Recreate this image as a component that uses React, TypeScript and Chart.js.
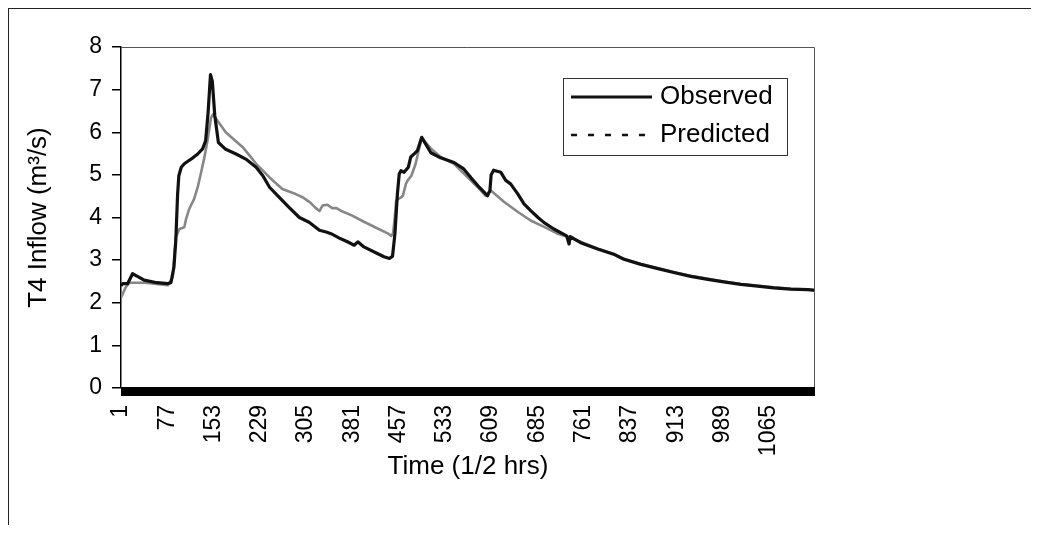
import { useEffect, useRef } from "react";
import { Chart, registerables } from "chart.js";

Chart.register(...registerables);

// Half-hour time steps and flows (m³/s) for the T4 inflow
const obsTime = [
  1, 4, 12, 20, 28, 39, 60, 78, 83, 88,
  91, 94, 96, 100, 105, 112, 119, 127, 135, 140,
  144, 148, 151, 155, 161, 173, 190, 206, 223, 234,
  245, 261, 277, 294, 310, 327, 338, 346, 362, 373,
  384, 390, 400, 417, 433, 442, 447, 451, 455, 458,
  461, 466, 473, 477, 483, 488, 495, 510, 526, 548,
  564, 576, 587, 597, 603, 607, 609, 613, 625, 633,
  641, 653, 663, 674, 686, 696, 712, 733, 737, 739,
  756, 784, 810, 827, 855, 883, 909, 937, 965, 991,
  1019, 1047, 1073, 1101, 1129, 1141,
];
const obsFlow = [
  2.4, 2.45, 2.45, 2.68, 2.62, 2.53, 2.47, 2.45, 2.47, 2.84,
  3.46, 4.55, 4.98, 5.18, 5.26, 5.33, 5.4, 5.49, 5.61, 5.8,
  6.45, 7.35, 7.2, 6.4, 5.76, 5.6, 5.49, 5.37, 5.18, 4.98,
  4.71, 4.47, 4.24, 4.0, 3.89, 3.7, 3.66, 3.62, 3.5, 3.43,
  3.35, 3.43, 3.31, 3.19, 3.08, 3.04, 3.09, 3.62, 4.55, 5.02,
  5.1, 5.06, 5.18, 5.42, 5.5, 5.57, 5.88, 5.52, 5.4, 5.29,
  5.14, 4.93, 4.75, 4.6, 4.51, 4.63, 5.0, 5.11, 5.06, 4.87,
  4.79, 4.55, 4.32, 4.16, 4.0, 3.88, 3.73, 3.57, 3.38, 3.55,
  3.41, 3.26, 3.14, 3.02, 2.9, 2.8, 2.71, 2.62, 2.55, 2.49,
  2.43, 2.39, 2.35, 2.32, 2.31, 2.29,
];

const predTime = [
  1, 9, 15, 40, 78, 86, 91, 97, 105, 108,
  113, 121, 127, 132, 138, 143, 149, 152, 173, 201,
  223, 245, 266, 288, 300, 305, 312, 321, 327, 332,
  340, 348, 355, 362, 380, 400, 420, 440, 445, 448,
  451, 453, 456, 461, 464, 469, 472, 478, 485, 490,
  495, 510, 526, 548, 570, 587, 600, 605, 609, 630,
  653, 674, 696, 718, 735, 756, 784, 810, 827, 855,
  883, 909, 937, 965, 991, 1019, 1047, 1073, 1101, 1129,
  1141,
];
const predFlow = [
  2.12, 2.37, 2.47, 2.47, 2.41, 2.6, 3.54, 3.73, 3.77, 3.97,
  4.2, 4.43, 4.71, 5.02, 5.41, 5.8, 6.35, 6.42, 6.0, 5.65,
  5.26, 4.94, 4.67, 4.55, 4.47, 4.42, 4.35, 4.22, 4.15, 4.28,
  4.3, 4.22, 4.22, 4.16, 4.05, 3.9, 3.76, 3.62, 3.57, 3.63,
  4.05, 4.4, 4.43, 4.47, 4.51, 4.79, 4.87, 4.98, 5.26, 5.57,
  5.86, 5.62, 5.42, 5.26, 4.95, 4.71, 4.51, 4.59, 4.63, 4.37,
  4.13, 3.93, 3.78, 3.62, 3.55, 3.43, 3.27, 3.15, 3.03, 2.91,
  2.81, 2.72, 2.63, 2.56, 2.5, 2.44, 2.4, 2.36, 2.33, 2.31,
  2.3,
];

const timeTicks = [1, 77, 153, 229, 305, 381, 457, 533, 609, 685, 761, 837, 913, 989, 1065];
const flowTicks = [0, 1, 2, 3, 4, 5, 6, 7, 8];
const seriesNames = ["Observed", "Predicted"];
const timeStart = 1;
const timeEnd = 1141;

const FONT = "'Liberation Sans', Arial, Helvetica, sans-serif";

const toPoints = (xs: number[], ys: number[]) => xs.map((x, i) => ({ x, y: ys[i] }));

// Plot frame, heavy zero baseline and the boxed legend inside the plot
const decorPlugin = {
  id: "decor",
  afterDraw(chart: any) {
    const { ctx, chartArea: a, scales } = chart;
    const y0 = scales.y.getPixelForValue(0);
    ctx.save();

    ctx.strokeStyle = "#555";
    ctx.lineWidth = 1;
    ctx.beginPath();
    ctx.moveTo(a.left, a.top + 0.5);
    ctx.lineTo(a.right - 0.5, a.top + 0.5);
    ctx.lineTo(a.right - 0.5, y0);
    ctx.stroke();

    ctx.fillStyle = "#000";
    ctx.fillRect(a.left, y0 - 1, a.right - a.left, 9);

    const boxW = 224;
    const boxH = 77;
    const bx = a.right - 28 - boxW;
    const by = a.top + 31;
    ctx.strokeStyle = "#333";
    ctx.lineWidth = 1;
    ctx.strokeRect(bx + 0.5, by + 0.5, boxW, boxH);

    const rows = [by + 19, by + 57];
    ctx.strokeStyle = "#111";
    ctx.lineWidth = 3;
    ctx.setLineDash([]);
    ctx.beginPath();
    ctx.moveTo(bx + 8, rows[0]);
    ctx.lineTo(bx + 89, rows[0]);
    ctx.stroke();

    ctx.lineWidth = 2.5;
    ctx.setLineDash([6, 11]);
    ctx.beginPath();
    ctx.moveTo(bx + 8, rows[1]);
    ctx.lineTo(bx + 89, rows[1]);
    ctx.stroke();
    ctx.setLineDash([]);

    ctx.fillStyle = "#000";
    ctx.font = `26px ${FONT}`;
    ctx.textBaseline = "middle";
    ctx.textAlign = "left";
    ctx.fillText(seriesNames[0], bx + 97, rows[0]);
    ctx.fillText(seriesNames[1], bx + 97, rows[1]);
    ctx.restore();
  },
};

export default function App() {
  const canvasRef = useRef<HTMLCanvasElement | null>(null);

  useEffect(() => {
    const canvas = canvasRef.current;
    if (!canvas) return;
    const chart = new Chart(canvas, {
      type: "line",
      data: {
        datasets: [
          {
            label: seriesNames[0],
            data: toPoints(obsTime, obsFlow),
            borderColor: "#111",
            borderWidth: 3.2,
            pointRadius: 0,
            tension: 0,
            borderJoinStyle: "round",
          },
          {
            label: seriesNames[1],
            data: toPoints(predTime, predFlow),
            borderColor: "#878787",
            borderWidth: 2.6,
            pointRadius: 0,
            tension: 0,
            borderJoinStyle: "round",
          },
        ],
      },
      options: {
        responsive: false,
        animation: false,
        devicePixelRatio: 1,
        layout: { padding: { top: 38, right: 224, left: 0, bottom: 0 } },
        plugins: {
          legend: { display: false },
          tooltip: { enabled: false },
        },
        scales: {
          x: {
            type: "linear",
            min: timeStart,
            max: timeEnd,
            afterBuildTicks: (scale: any) => {
              scale.ticks = timeTicks.map((value) => ({ value }));
            },
            afterFit: (scale: any) => {
              scale.height = 137;
            },
            ticks: {
              autoSkip: false,
              minRotation: 90,
              maxRotation: 90,
              padding: 17,
              color: "#000",
              font: { family: FONT, size: 23 },
              callback: (value: any) => String(value),
            },
            grid: { display: false, drawTicks: false },
            border: { display: false },
            title: {
              display: true,
              text: "Time (1/2 hrs)",
              color: "#000",
              font: { family: FONT, size: 26 },
              padding: { top: 0, bottom: 43 },
            },
          },
          y: {
            min: 0,
            max: 8,
            afterBuildTicks: (scale: any) => {
              scale.ticks = flowTicks.map((value) => ({ value }));
            },
            afterFit: (scale: any) => {
              scale.width = 112;
            },
            ticks: {
              padding: 10,
              color: "#000",
              font: { family: FONT, size: 23 },
            },
            grid: {
              drawOnChartArea: false,
              drawTicks: true,
              tickLength: 9,
              color: "#000",
              lineWidth: 1.5,
            },
            border: { color: "#000", width: 1.5 },
            title: {
              display: true,
              text: "T4 Inflow (m³/s)",
              color: "#000",
              font: { family: FONT, size: 26 },
              padding: { top: 14, bottom: 0 },
            },
          },
        },
      },
      plugins: [decorPlugin],
    });
    return () => chart.destroy();
  }, []);

  return (
    <div
      style={{
        width: 1031,
        height: 517,
        boxSizing: "border-box",
        borderLeft: "1px solid #222",
        borderTop: "1px solid #222",
        background: "#fff",
      }}
    >
      <canvas ref={canvasRef} width={1030} height={516} style={{ display: "block" }} />
    </div>
  );
}
